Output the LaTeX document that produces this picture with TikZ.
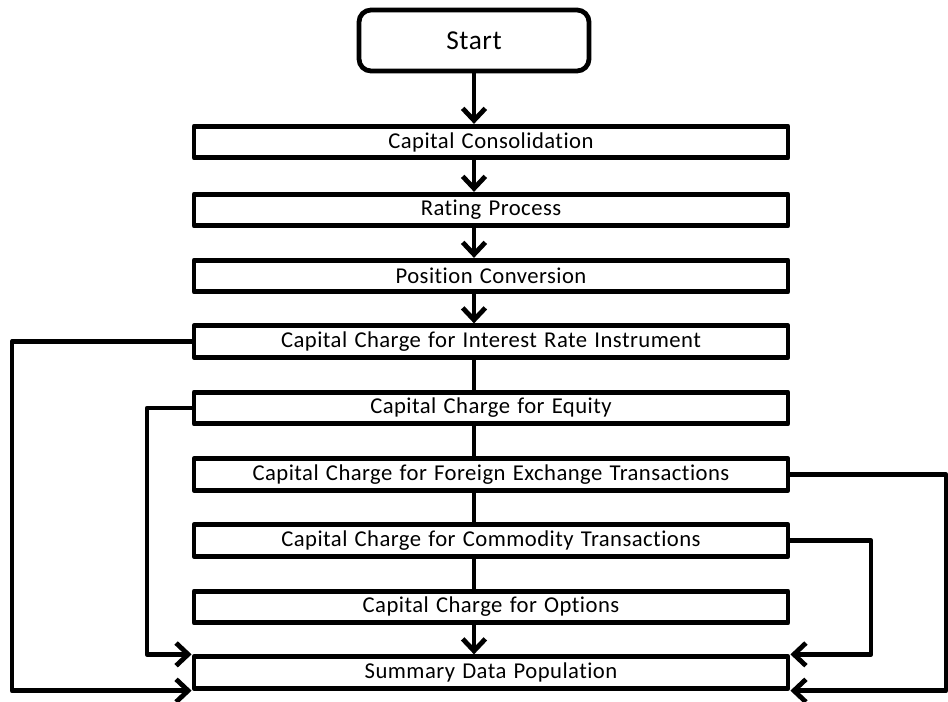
\documentclass[tikz,border=0pt]{standalone}
\usepackage{fontspec}
\setmainfont{Carlito}[Ligatures=NoCommon, LetterSpace=2, WordSpace=1.3]
\usetikzlibrary{arrows.meta}

\begin{document}
\begin{tikzpicture}[x=0.75pt, y=-0.75pt, line width=3.6pt, line join=round,
  procbox/.style={draw, rectangle, minimum width=445.5pt, minimum height=23.6pt,
    inner sep=0pt, font=\fontsize{17}{19}\selectfont},
  startbox/.style={draw, rounded corners=9pt, minimum width=172.5pt,
    minimum height=45.75pt, inner sep=0pt, font=\fontsize{20.5}{24}\selectfont},
  arr/.style={-{Straight Barb[length=9pt,width=17pt]}}]
  \useasboundingbox (0,0) rectangle (948,702);
  \node[startbox] (start) at (474,40.5) {Start};
  \foreach \nm/\lab/\yy in {cons/Capital Consolidation/142,
      rate/Rating Process/210, pos/Position Conversion/276,
      intr/Capital Charge for Interest Rate Instrument/341.5,
      eq/Capital Charge for Equity/408,
      fx/Capital Charge for Foreign Exchange Transactions/474.5,
      com/Capital Charge for Commodity Transactions/540.5,
      opt/Capital Charge for Options/607,
      sum/Summary Data Population/672.5}{%
    \node[procbox] (\nm) at (491,\yy) {\lab};}
  % main line
  \draw[arr] (start) -- (start |- cons.north);
  \foreach \a/\b in {cons/rate, rate/pos, pos/intr, opt/sum}{%
    \draw[arr] (start |- \a.south) -- (start |- \b.north);}
  \foreach \a/\b in {intr/eq, eq/fx, fx/com, com/opt}{%
    \draw (start |- \a.south) -- (start |- \b.north);}
  % side lines into the summary
  \coordinate (farL) at (12,0);
  \coordinate (nearL) at (147,0);
  \coordinate (nearR) at (871,0);
  \coordinate (farR) at (946,0);
  \draw[arr] (intr.west) -| (farL |- sum.south) -- (sum.south west);
  \draw[arr] (eq.west) -| (nearL |- sum.north) -- (sum.north west);
  \draw[arr] (fx.east) -| (farR |- sum.south) -- (sum.south east);
  \draw[arr] (com.east) -| (nearR |- sum.north) -- (sum.north east);
\end{tikzpicture}
\end{document}
